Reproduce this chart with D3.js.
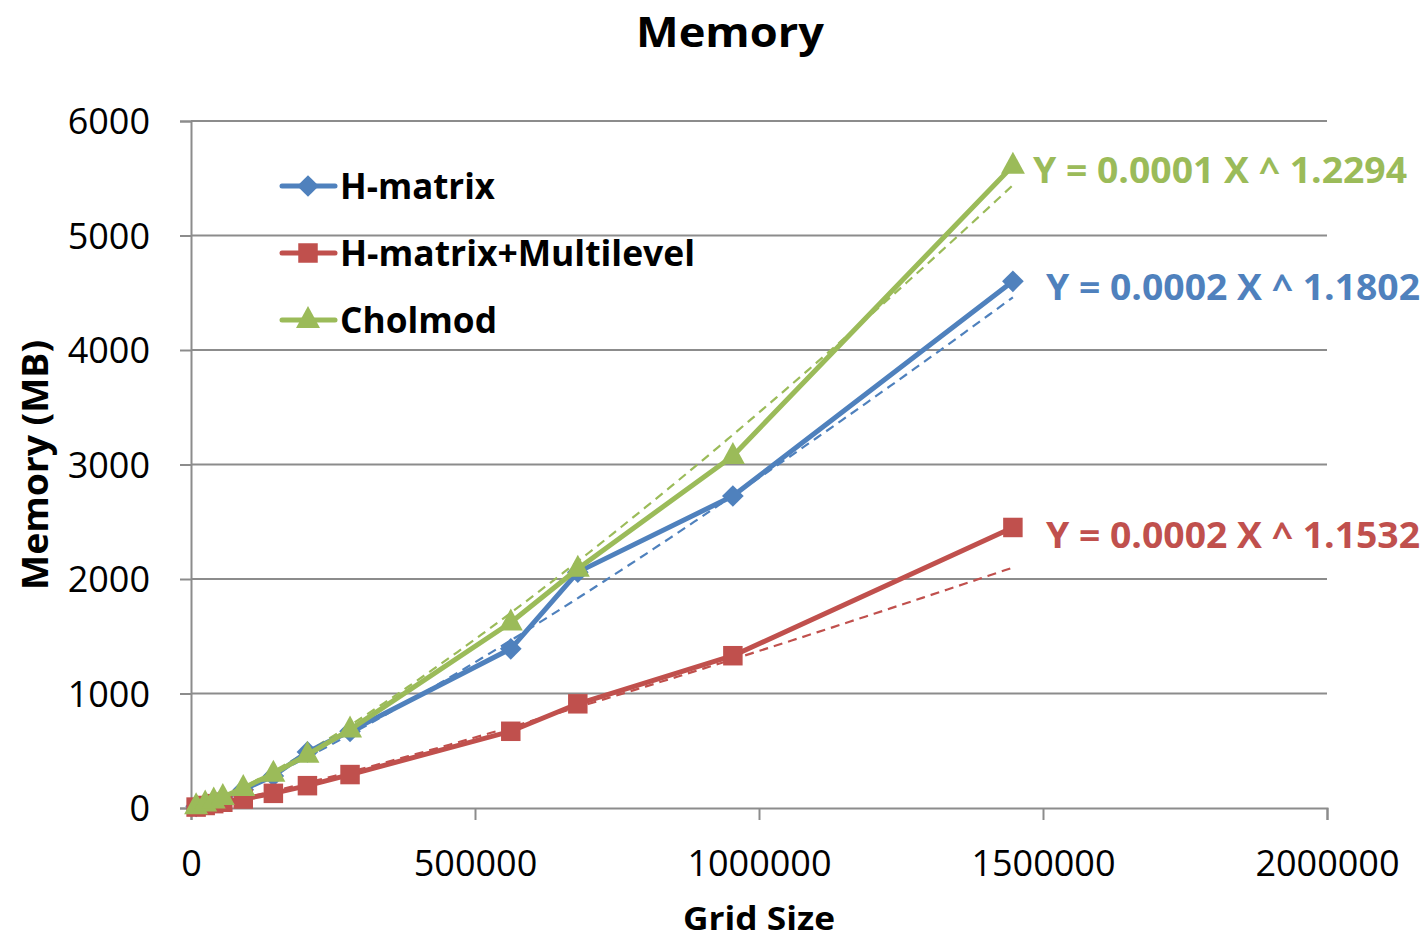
<!DOCTYPE html>
<html lang="en">
<head>
<meta charset="UTF-8">
<title>Memory</title>
<script src="https://d3js.org/d3.v7.min.js"></script>
<style>
  body { margin: 0; background: #fff; }
  svg text { font-family: "Open Sans", "Liberation Sans", sans-serif; fill: #000; }
</style>
</head>
<body>
<div id="viz"></div>
<script>
// grid sizes (x values) shared by all series
var gridSize = [9000, 25000, 40000, 56000, 92000, 145000, 205000, 280000, 563000, 681000, 954000, 1447000];

var hMatrix    = [15, 38, 60, 85, 160, 280, 490, 670, 1390, 2060, 2725, 4600];
var hMatrixML  = [8, 22, 38, 50, 78, 128, 195, 292, 670, 910, 1330, 2450];
var cholmod    = [15, 40, 65, 95, 175, 300, 465, 685, 1620, 2090, 3075, 5610];

var seriesNames = ["H-matrix", "H-matrix+Multilevel", "Cholmod"];
var seriesColors = ["#4F81BD", "#C0504D", "#9BBB59"];
var seriesShapes = ["diamond", "square", "triangle"];

// power trendlines y = a x^b (b from labels, end value)
var trendExp = [1.1802, 1.1532, 1.2294];
var trendEnd = [4460, 2100, 5440];
var trendLabels = ["Y = 0.0002 X ^ 1.1802", "Y = 0.0002 X ^ 1.1532", "Y = 0.0001 X ^ 1.2294"];

var xTicks = [0, 500000, 1000000, 1500000, 2000000];
var yTicks = [0, 1000, 2000, 3000, 4000, 5000, 6000];

var w = 1426, h = 941;
var svg = d3.select("#viz").append("svg").attr("width", w).attr("height", h);

var x = d3.scaleLinear().domain([0, 2000000]).range([191, 1327]);
var y = d3.scaleLinear().domain([0, 6000]).range([808, 121]);

// gridlines
svg.append("g").selectAll("line").data(yTicks.slice(1)).enter().append("line")
    .attr("x1", x(0)).attr("x2", x(2000000))
    .attr("y1", function(d){ return y(d); }).attr("y2", function(d){ return y(d); })
    .attr("stroke", "#8c8c8c").attr("stroke-width", 2);

// y axis
var yAxis = d3.axisLeft(y).tickValues(yTicks).tickSize(11).tickPadding(30).tickFormat(d3.format("d"));
var gy = svg.append("g").attr("transform", "translate(" + x(0) + ",0)").call(yAxis);
gy.select(".domain").attr("stroke", "#8c8c8c").attr("stroke-width", 2);
gy.selectAll(".tick line").attr("stroke", "#8c8c8c").attr("stroke-width", 2);
gy.selectAll(".tick text").attr("font-size", 36).attr("font-family", "Open Sans").attr("dy", "0.35em");

// x axis
var xAxis = d3.axisBottom(x).tickValues(xTicks).tickSize(12).tickPadding(30).tickFormat(d3.format("d"));
var gx = svg.append("g").attr("transform", "translate(0," + y(0) + ")").call(xAxis);
gx.select(".domain").attr("stroke", "#8c8c8c").attr("stroke-width", 2);
gx.selectAll(".tick line").attr("stroke", "#8c8c8c").attr("stroke-width", 2);
gx.selectAll(".tick text").attr("font-size", 36).attr("font-family", "Open Sans");

var allSeries = [hMatrix, hMatrixML, cholmod];

// trendlines
allSeries.forEach(function(vals, i){
    var b = trendExp[i];
    var xEnd = gridSize[gridSize.length - 1];
    var a = trendEnd[i] / Math.pow(xEnd, b);
    var pts = d3.range(0, 101).map(function(k){
        var xv = gridSize[0] + (xEnd - gridSize[0]) * k / 100;
        return [xv, a * Math.pow(xv, b)];
    });
    svg.append("path")
        .attr("d", d3.line().x(function(d){ return x(d[0]); }).y(function(d){ return y(d[1]); })(pts))
        .attr("fill", "none")
        .attr("stroke", seriesColors[i])
        .attr("stroke-width", 2.2)
        .attr("stroke-dasharray", "9,6");
});

function markerPath(shape){
    if (shape === "diamond") return d3.symbol().type(d3.symbolDiamond2).size(300)();
    if (shape === "square") return d3.symbol().type(d3.symbolSquare).size(380)();
    return "M0,-14L12,8L-12,8Z";
}

// series lines + markers
allSeries.forEach(function(vals, i){
    var data = vals.map(function(v, k){ return [gridSize[k], v]; });
    var g = svg.append("g");
    g.append("path")
        .attr("d", d3.line().x(function(d){ return x(d[0]); }).y(function(d){ return y(d[1]); })(data))
        .attr("fill", "none")
        .attr("stroke", seriesColors[i])
        .attr("stroke-width", 5)
        .attr("stroke-linejoin", "round");
    g.selectAll("path.mk").data(data).enter().append("path")
        .attr("class", "mk")
        .attr("transform", function(d){ return "translate(" + x(d[0]) + "," + y(d[1]) + ")"; })
        .attr("d", markerPath(seriesShapes[i]))
        .attr("fill", seriesColors[i]);
});

// trendline equations
var eqPos = [[1046, 287], [1046, 535], [1033, 170]];
trendLabels.forEach(function(t, i){
    svg.append("text")
        .attr("x", eqPos[i][0]).attr("y", eqPos[i][1])
        .attr("dy", "0.35em")
        .attr("font-size", 36).attr("font-weight", "bold")
        .attr("textLength", 374).attr("lengthAdjust", "spacingAndGlyphs")
        .style("fill", seriesColors[i])
        .text(t);
});

// legend
var legendY = [186, 253, 320];
var legendW = [155, 355, 157];
seriesNames.forEach(function(name, i){
    var g = svg.append("g").attr("transform", "translate(0," + legendY[i] + ")");
    g.append("line").attr("x1", 282).attr("x2", 335).attr("y1", 0).attr("y2", 0)
        .attr("stroke", seriesColors[i]).attr("stroke-width", 5).attr("stroke-linecap", "round");
    g.append("path").attr("transform", "translate(308,0)")
        .attr("d", markerPath(seriesShapes[i])).attr("fill", seriesColors[i]);
    g.append("text").attr("x", 340).attr("y", 0).attr("dy", "0.35em")
        .attr("font-size", 36).attr("font-weight", "bold")
        .attr("textLength", legendW[i]).attr("lengthAdjust", "spacingAndGlyphs")
        .text(name);
});

// titles
svg.append("text").attr("x", 730).attr("y", 47)
    .attr("text-anchor", "middle").attr("font-size", 42).attr("font-weight", "bold")
    .attr("textLength", 188).attr("lengthAdjust", "spacingAndGlyphs")
    .text("Memory");

svg.append("text").attr("x", 759).attr("y", 930)
    .attr("text-anchor", "middle").attr("font-size", 32).attr("font-weight", "bold")
    .attr("textLength", 152).attr("lengthAdjust", "spacingAndGlyphs")
    .text("Grid Size");

svg.append("text").attr("transform", "translate(35,465) rotate(-90)").attr("dy", "0.35em")
    .attr("text-anchor", "middle").attr("font-size", 36).attr("font-weight", "bold")
    .attr("textLength", 250).attr("lengthAdjust", "spacingAndGlyphs")
    .text("Memory (MB)");
</script>
</body>
</html>
